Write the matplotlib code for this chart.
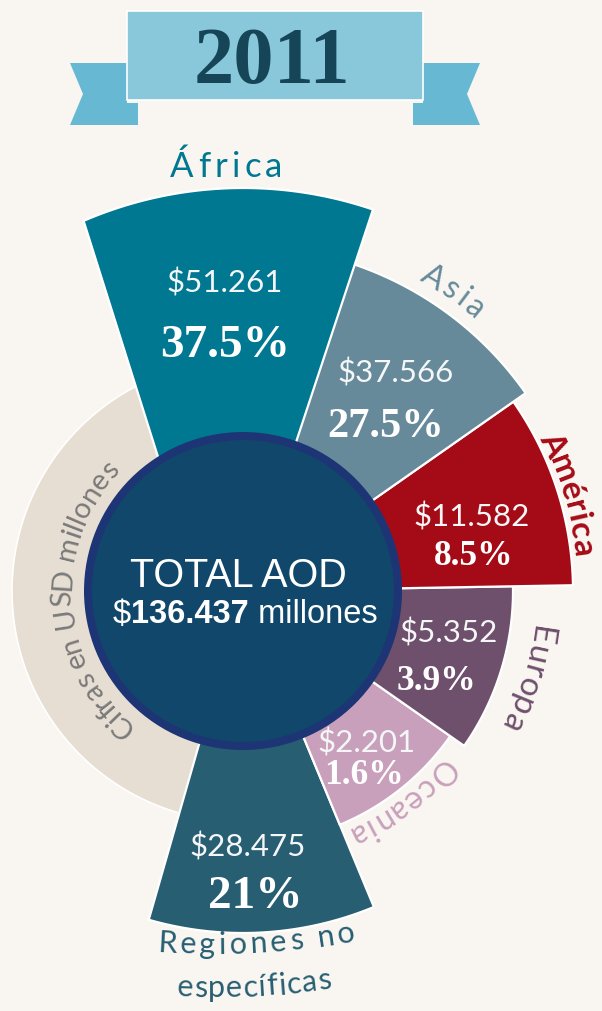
import numpy as np
import matplotlib
matplotlib.use("Agg")
import matplotlib.pyplot as plt
from matplotlib.patches import Polygon, Circle, Rectangle
from matplotlib.font_manager import FontProperties, findfont, get_font

# ------------------------------------------------------------------ data
YEAR = "2011"
REGIONS = ["África", "Asia", "América", "Europa", "Oceania", "Regiones no específicas"]
AMOUNTS_MUSD = [51261, 37566, 11582, 5352, 2201, 28475]
SHARES_PCT = [37.5, 27.5, 8.5, 3.9, 1.6, 21]
TOTAL_MUSD = 136437
TOTAL_LABEL = "TOTAL AOD"
UNIT_NOTE = "Cifras en USD millones"

# ------------------------------------------------------------------ style / layout
W, H, DPI = 602, 1011, 100
BG = "#f9f6f1"
COLORS = ["#007891", "#668a9a", "#a50b16", "#6e4f6c", "#c9a0bb", "#275e72"]
BAND_COLOR = "#e7ded3"
CIRCLE_FILL, CIRCLE_RING = "#10476a", "#1d3574"
RIBBON_MAIN, RIBBON_END, YEAR_COLOR = "#88c8da", "#67b9d3", "#174558"
NOTE_COLOR = "#7a7a7a"
SANS = "Lato"

CX, CY = 243, 591          # hub centre in px (y down)
HUB_R, RING_W = 159, 8

# compass degrees (clockwise from 12 o'clock); arcs centred on hub
WEDGE_START = [-17.5, 18.5, 55.0, 89.0, 125.0, 157.5]
WEDGE_END = [18.3, 55.0, 89.0, 125.0, 157.5, 196.0]
WEDGE_R = [403, 345, 330, 270, 253, 342]
WEDGE_VERTEX = [(223, 663), (CX, CY), (CX, CY), (CX, CY), (CX, CY), (CX, CY)]
DRAW_ORDER = [5, 4, 3, 2, 1, 0]
BAND_START, BAND_END, BAND_R = 190, 345, 231

VALUE_POS = [(225, 293), (396, 383), (472, 526), (449, 643), (367, 752), (248, 856)]
PCT_POS = [(225, 357), (386, 437), (474, 565), (436, 690), (364, 784), (255, 908)]
PCT_SIZE = [34, 30.5, 25.5, 25.5, 25.5, 34]
VALUE_SIZE = 22.5

# curved labels: (centre, baseline radius, first-char angle, last-char angle, size, weight, direction)
LABEL_ARCS = [
    None,  # África drawn straight
    ((CX, CY), 357, 31.3, 39.3, 23, "normal", "cw"),
    ((CX, CY), 333, 64.6, 82.6, 24, "bold", "cw"),
    ((CX, CY), 291, 98.6, 116.0, 24, "normal", "cw"),
    ((CX, CY), 259, 132.4, 154.7, 23, "normal", "cw"),
    None,  # Regiones: two lines
]
AFRICA_LINE = (177, 182, 274, 25)          # baseline y, first x, last x, size
REG_CENTRE = (214, 154)
REG_LINES = [(800, 183.4, 170.4, 22), (843, 182.0, 172.4, 22)]
NOTE_ARC = ((CX, CY), 172, 221.6, 312.3, 21)

# ------------------------------------------------------------------ helpers
try:
    from matplotlib.ft2font import LoadFlags
    NOHINT = LoadFlags.NO_HINTING
except Exception:  # pragma: no cover
    from matplotlib.ft2font import LOAD_NO_HINTING as NOHINT


def advances(s, fp):
    font = get_font(findfont(fp))
    font.set_size(fp.get_size_in_points(), 72)
    out = []
    for ch in s:
        g = font.load_char(ord(ch), flags=NOHINT)
        out.append(g.linearHoriAdvance / 65536.0 * DPI / 72.0)
    return np.array(out)


def char_centres(s, fp, span):
    adv = advances(s, fp)
    pos = np.cumsum(adv) - adv / 2.0
    nat = pos[-1] - pos[0]
    track = (span - nat) / max(len(s) - 1, 1)
    return pos - pos[0] + np.arange(len(s)) * track


def compass_pt(c, r, phi):
    a = np.radians(phi)
    return c[0] + r * np.sin(a), c[1] - r * np.cos(a)


def arc_text(ax, s, centre, r, phi0, phi1, fp, color, direction="cw"):
    span = r * np.radians(abs(phi1 - phi0))
    pos = char_centres(s, fp, span)
    sign = 1 if direction == "cw" else -1
    for ch, p in zip(s, pos):
        if ch == " ":
            continue
        phi = phi0 + sign * np.degrees(p / r)
        x, y = compass_pt(centre, r, phi)
        rot = -phi if direction == "cw" else 180 - phi
        ax.text(x, y, ch, rotation=rot, rotation_mode="anchor", ha="center",
                va="baseline", fontproperties=fp, color=color)


def fan_polygon(vertex, a1, a2, r, hub=(CX, CY), n=120):
    V = np.array(vertex, float)
    Cc = np.array(hub, float)

    def hit(a):
        d = np.array([np.sin(np.radians(a)), -np.cos(np.radians(a))])
        w = V - Cc
        b = w @ d
        t = -b + np.sqrt(b * b - (w @ w) + r * r)
        return V + t * d

    p1, p2 = hit(a1), hit(a2)
    ang = lambda p: np.degrees(np.arctan2(p[0] - Cc[0], -(p[1] - Cc[1])))
    f1, f2 = ang(p1), ang(p2)
    while f2 < f1:
        f2 += 360
    phis = np.linspace(f1, f2, n)
    arc = np.column_stack([Cc[0] + r * np.sin(np.radians(phis)),
                           Cc[1] - r * np.cos(np.radians(phis))])
    return np.vstack([V, arc])


def fmt_money(v):
    return f"{v:,}".replace(",", ".")


# ------------------------------------------------------------------ figure
fig = plt.figure(figsize=(W / DPI, H / DPI), dpi=DPI)
fig.patch.set_facecolor(BG)
ax = fig.add_axes([0, 0, 1, 1])
ax.set_xlim(0, W)
ax.set_ylim(H, 0)
ax.axis("off")
ax.set_facecolor(BG)

# banner
left_tail = [(70, 63), (127, 63), (127, 103), (138, 103), (138, 125), (70, 125), (83, 94)]
right_tail = [(423, 63), (480, 63), (467, 94), (480, 125), (413, 125), (413, 103), (423, 103)]
ax.add_patch(Polygon(left_tail, closed=True, fc=RIBBON_END, ec="none"))
ax.add_patch(Polygon(right_tail, closed=True, fc=RIBBON_END, ec="none"))
ax.add_patch(Rectangle((127, 11), 296, 89, fc=RIBBON_MAIN, ec="white", lw=1.2))
ax.text(272, 83, YEAR, ha="center", va="baseline", fontsize=58,
        family="Liberation Serif", weight="bold", color=YEAR_COLOR)

# background band
ax.add_patch(Polygon(fan_polygon((CX, CY), BAND_START, BAND_END, BAND_R),
                     closed=True, fc=BAND_COLOR, ec="white", lw=1.2))

# wedges
for i in DRAW_ORDER:
    poly = fan_polygon(WEDGE_VERTEX[i], WEDGE_START[i], WEDGE_END[i], WEDGE_R[i])
    ax.add_patch(Polygon(poly, closed=True, fc=COLORS[i], ec="white", lw=1.6,
                         joinstyle="miter"))

# hub
ax.add_patch(Circle((CX, CY), HUB_R, fc=CIRCLE_RING, ec="none"))
ax.add_patch(Circle((CX, CY), HUB_R - RING_W, fc=CIRCLE_FILL, ec="none"))

# values and shares
fp_val = FontProperties(family=SANS, weight="normal", size=VALUE_SIZE)
for i in range(len(REGIONS)):
    ax.text(VALUE_POS[i][0], VALUE_POS[i][1], "$" + fmt_money(AMOUNTS_MUSD[i]),
            ha="center", va="baseline", fontproperties=fp_val, color="#f4f6f7")
    ax.text(PCT_POS[i][0], PCT_POS[i][1], f"{SHARES_PCT[i]:g}%", ha="center",
            va="baseline", fontsize=PCT_SIZE[i], family="Liberation Serif",
            weight="bold", color="white")

# centre text
ax.text(238, 587, TOTAL_LABEL, ha="center", va="baseline", fontsize=28.5,
        family="Liberation Sans", color="white")
fp_r = FontProperties(family="Liberation Sans", size=23.5)
fp_b = FontProperties(family="Liberation Sans", weight="bold", size=23.5)
parts = [("$", fp_r), (fmt_money(TOTAL_MUSD), fp_b), (" millones", fp_r)]
widths = [advances(t, f).sum() for t, f in parts]
x = 245 - sum(widths) / 2
for (t, f), w in zip(parts, widths):
    ax.text(x, 623, t, ha="left", va="baseline", fontproperties=f, color="white")
    x += w

# region labels
y0, xa, xb, sz = AFRICA_LINE
fp = FontProperties(family=SANS, size=sz)
pos = char_centres(REGIONS[0], fp, xb - xa)
for ch, p in zip(REGIONS[0], pos):
    ax.text(xa + p, y0, ch, ha="center", va="baseline", fontproperties=fp, color=COLORS[0])

for i, spec in enumerate(LABEL_ARCS):
    if spec is None:
        continue
    centre, r, a0, a1, sz, wt, dr = spec
    fp = FontProperties(family=SANS, size=sz, weight=wt)
    arc_text(ax, REGIONS[i], centre, r, a0, a1, fp, COLORS[i], dr)

reg_words = REGIONS[5].rsplit(" ", 1)
for line, (r, a0, a1, sz) in zip(reg_words, REG_LINES):
    fp = FontProperties(family=SANS, size=sz)
    arc_text(ax, line, REG_CENTRE, r, a0, a1, fp, COLORS[5], "ccw")

centre, r, a0, a1, sz = NOTE_ARC
arc_text(ax, UNIT_NOTE, centre, r, a0, a1, FontProperties(family=SANS, size=sz),
         NOTE_COLOR, "cw")

fig.savefig("out.png", dpi=DPI, facecolor=BG)
